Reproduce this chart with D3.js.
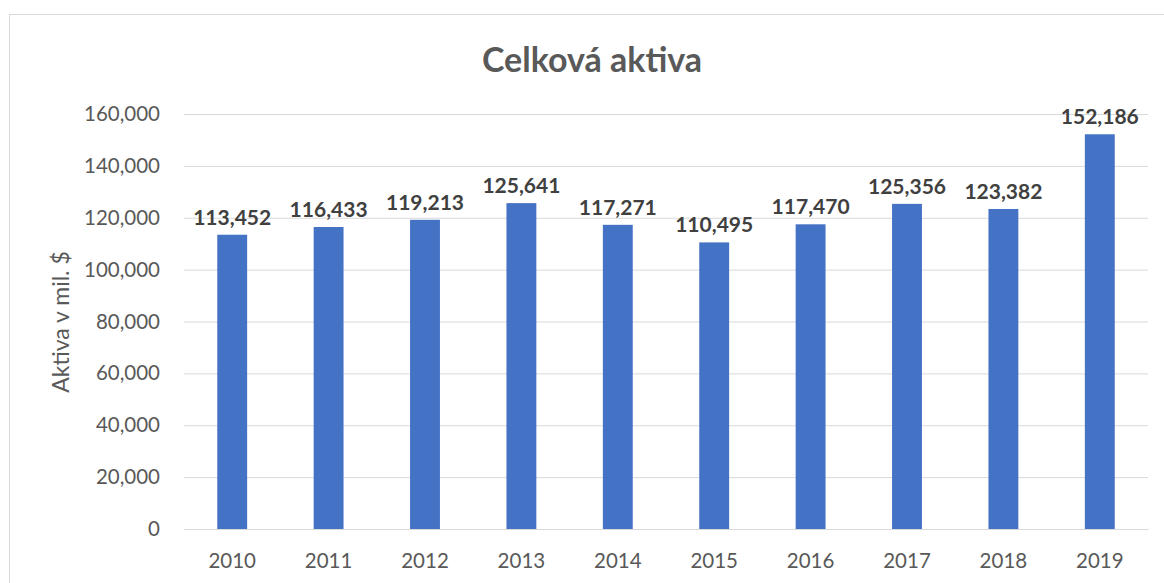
<!DOCTYPE html>
<html><head><meta charset="utf-8">
<script src="https://cdn.jsdelivr.net/npm/d3@7"></script>
<style>body{margin:0;background:#fff}svg{display:block}</style>
</head><body>
<script>
const years = ["2010","2011","2012","2013","2014","2015","2016","2017","2018","2019"];
const assets = [113452,116433,119213,125641,117271,110495,117470,125356,123382,152186];
const yTicks = [0,20000,40000,60000,80000,100000,120000,140000,160000];
const chartTitle = "Celková aktiva";
const yTitle = "Aktiva v mil. $";

(function(){
const W = 1164, H = 583;
const font = "Lato, 'Open Sans', sans-serif";
const svg = d3.select("body").append("svg").attr("width", W).attr("height", H);
svg.append("rect").attr("x",9.5).attr("y",14.5).attr("width",W+10).attr("height",H+10)
  .attr("fill","#fff").attr("stroke","#d9d9d9").attr("stroke-width",1);

const pL = 184, pR = 1148, pT = 114, pB = 529;
const x = d3.scaleBand().domain(years).range([pL,pR]).paddingInner(0.69).paddingOuter(0.345);
const y = d3.scaleLinear().domain([0,160000]).range([pB,pT]);

const fmt = d3.format(",");
const yAxis = svg.append("g").attr("transform",`translate(${pL},0)`)
  .call(d3.axisLeft(y).tickValues(yTicks).tickFormat(fmt).tickSize(-(pR-pL)).tickPadding(24));
yAxis.select(".domain").remove();
yAxis.selectAll(".tick line").attr("stroke","#d9d9d9").attr("stroke-width",1);
yAxis.selectAll(".tick text").attr("fill","#595959").attr("font-family",font).attr("font-size",20.5);

svg.selectAll("rect.bar").data(assets).join("rect").attr("class","bar")
  .attr("x",(d,i)=>x(years[i])).attr("width",x.bandwidth())
  .attr("y",d=>y(d)).attr("height",d=>y(0)-y(d)).attr("fill","#4472c4");

const xAxis = svg.append("g").attr("transform",`translate(0,${pB})`)
  .call(d3.axisBottom(x).tickSize(0).tickPadding(24));
xAxis.select(".domain").attr("stroke","#d9d9d9");
xAxis.selectAll(".tick text").attr("fill","#595959").attr("font-family",font).attr("font-size",20.5);

svg.selectAll("text.val").data(assets).join("text").attr("class","val")
  .attr("x",(d,i)=>x(years[i])+x.bandwidth()/2).attr("y",d=>y(d)-10)
  .attr("text-anchor","middle").attr("fill","#404040").attr("font-family",font)
  .attr("font-weight","bold").attr("font-size",21).text(d=>fmt(d));

svg.append("text").attr("x",592).attr("y",72).attr("text-anchor","middle")
  .attr("fill","#595959").attr("font-family",font).attr("font-weight","bold").attr("font-size",34).text(chartTitle);

svg.append("text").attr("transform","translate(69,322) rotate(-90)").attr("text-anchor","middle")
  .attr("fill","#595959").attr("font-family",font).attr("font-size",23).text(yTitle);
})();
</script>
</body></html>
